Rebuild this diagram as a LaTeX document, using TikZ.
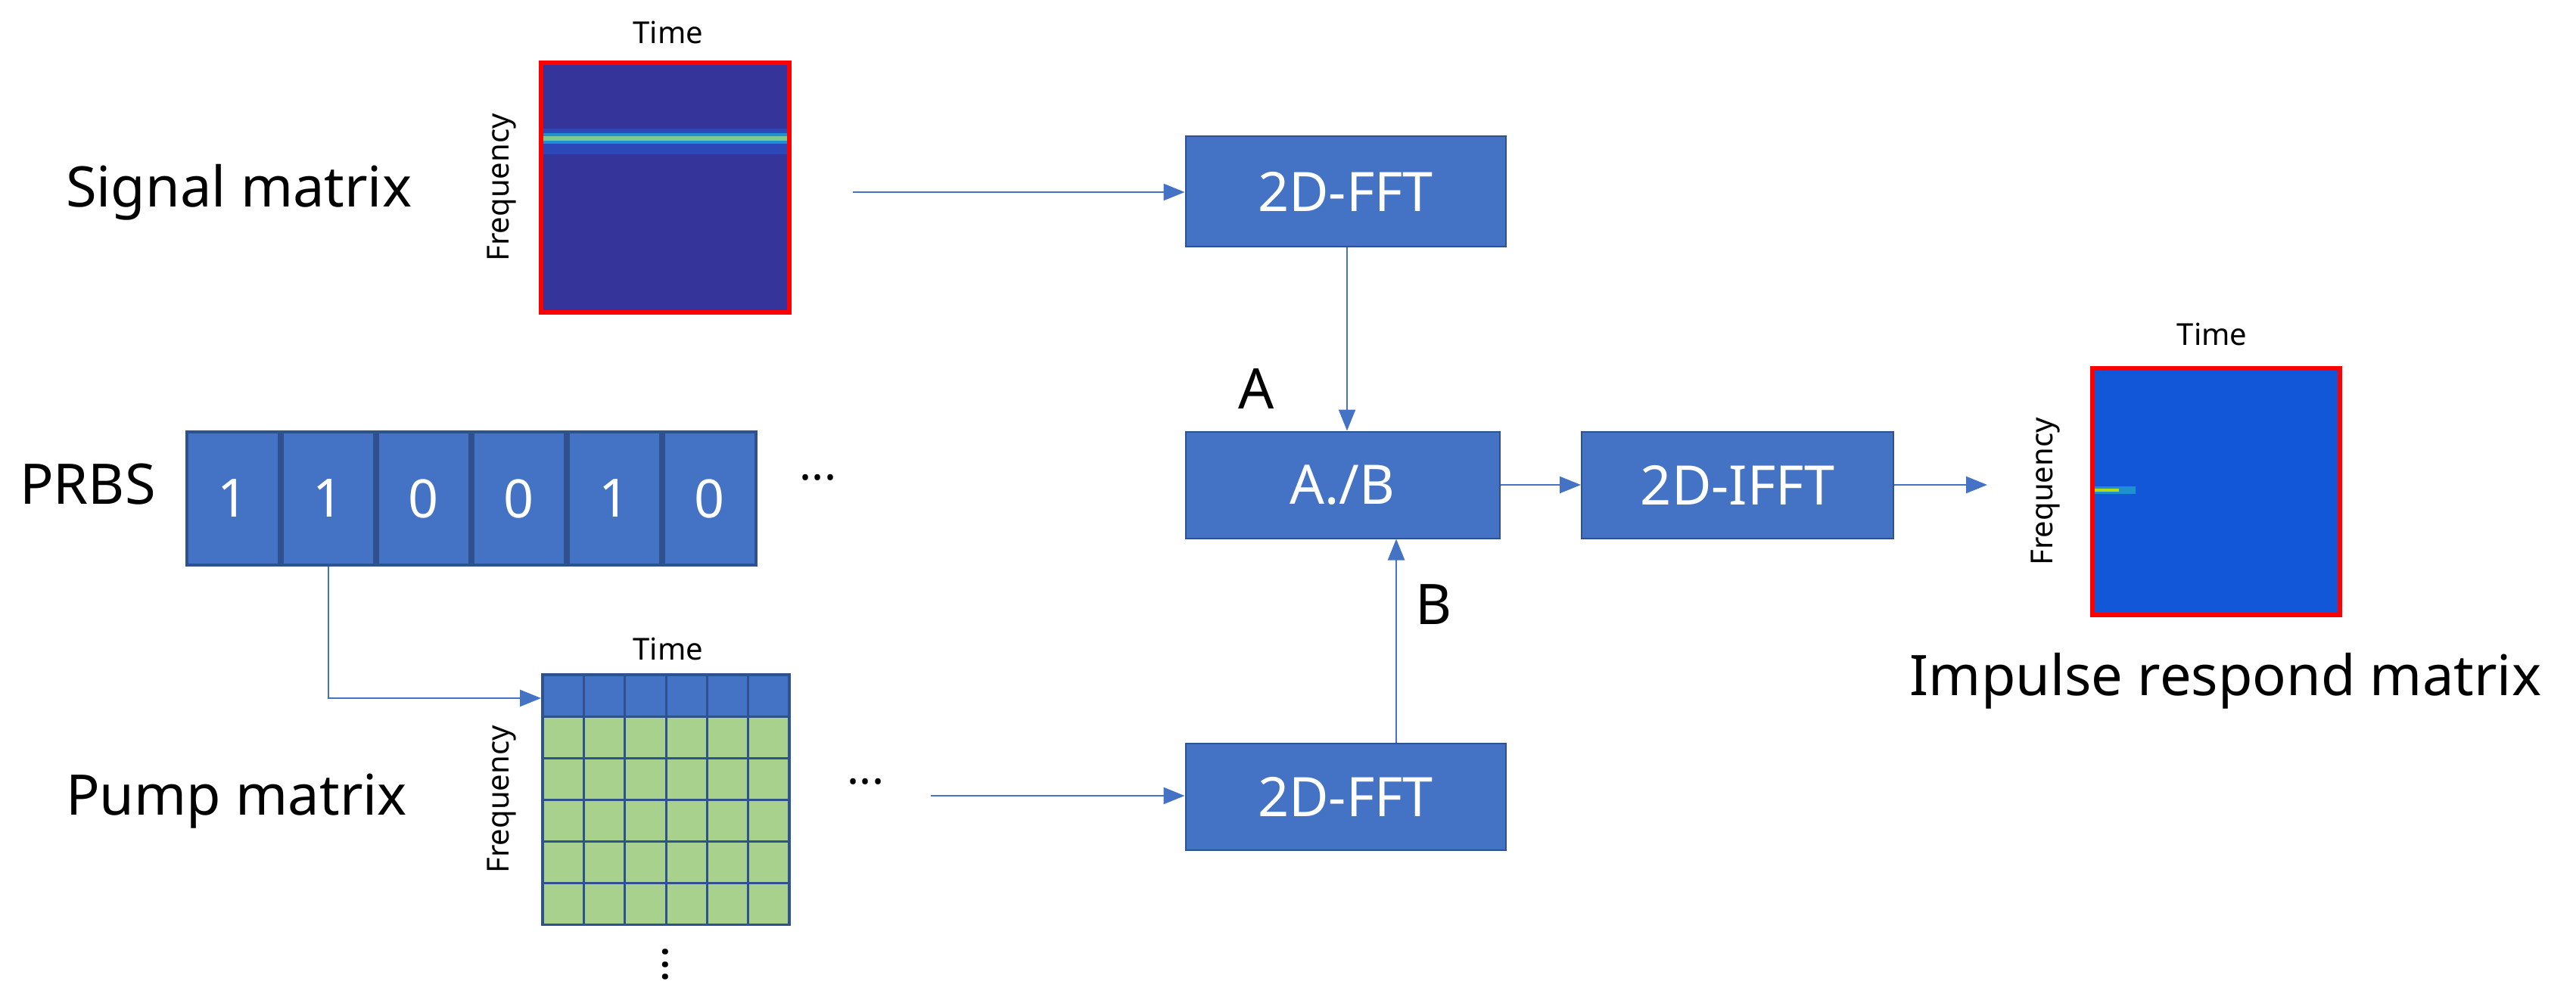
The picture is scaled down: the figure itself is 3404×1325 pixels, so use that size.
\documentclass[tikz,border=0pt]{standalone}
\usepackage{fontspec}
\setmainfont{Noto Sans}
\usetikzlibrary{arrows.meta}
\definecolor{bx}{HTML}{4472C4}
\definecolor{bxd}{HTML}{2F528F}
\definecolor{gr}{HTML}{A9D18E}
\definecolor{sbg}{HTML}{35349A}
\definecolor{ibg}{HTML}{1257D8}
\definecolor{bnd1}{HTML}{2C48B8}
\definecolor{bnd2}{HTML}{1E90D0}
\definecolor{bnd3}{HTML}{7CC890}
\begin{document}
\begin{tikzpicture}[x=1pt,y=-1pt,
  blk/.style={draw=bxd,line width=2pt,fill=bx,text=white,font=\fontsize{72}{80}\selectfont,inner sep=0pt},
  arr/.style={draw=bx,line width=2.5pt,-{Triangle[length=28pt,width=22pt]}},
  lbl/.style={font=\fontsize{74}{86}\selectfont,inner sep=0pt},
  dts/.style={font=\fontsize{60}{70}\selectfont,inner sep=0pt},
  axl/.style={font=\fontsize{40}{48}\selectfont,inner sep=0pt},
  cell/.style={draw=bxd,line width=4pt,fill=bx,text=white,minimum width=122pt,minimum height=176pt,inner sep=0pt,font=\fontsize{70}{80}\selectfont}]
\useasboundingbox (0,0) rectangle (3404,1325);
% signal matrix image
\node[draw=red,line width=6pt,fill=sbg,minimum width=328pt,minimum height=330pt,inner sep=0pt] (sig) at (879,248) {};
\fill[bnd1] (718,170) rectangle (1040,204);
\fill[bnd2] (718,176) rectangle (1040,190);
\fill[bnd3] (718,180) rectangle (1040,186);
\node[axl] (sigt) at (883,43) {Time};
\node[axl,rotate=90] (sigf) at (663,248) {Frequency};
\node[lbl,anchor=west] (sigl) at (87,254) {Signal matrix};
% blocks
\node[blk,minimum width=423pt,minimum height=146pt] (fft1) at (1778,253) {2D-FFT};
\node[blk,minimum width=415pt,minimum height=141pt] (div) at (1774,641) {A./B};
\node[blk,minimum width=412pt,minimum height=141pt] (ifft) at (2296,641) {2D-IFFT};
\node[blk,minimum width=423pt,minimum height=141pt] (fft2) at (1778,1053) {2D-FFT};
\coordinate (s1) at (1127,254);
\draw[arr] (s1) -- (fft1.west|-s1);
\draw[arr] (fft1.south-|1780,0) -- (div.north-|1780,0);
\node[lbl] (A) at (1660,514) {A};
\draw[arr] (fft2.north-|1845,0) -- (div.south-|1845,0);
\node[lbl] (B) at (1895,799) {B};
\draw[arr] (div.east) -- (ifft.west);
\coordinate (o1) at (2626,641);
\draw[arr] (ifft.east) -- (o1);
% impulse image
\node[draw=red,line width=6pt,fill=ibg,minimum width=327pt,minimum height=326pt,inner sep=0pt] (imp) at (2928,650) {};
\fill[cyan!60!ibg] (2768,643) rectangle (2822,653);
\fill[yellow!70!green] (2768,646) rectangle (2800,650);
\node[axl] (impt) at (2923,442) {Time};
\node[axl,rotate=90] (impf) at (2703,650) {Frequency};
\node[lbl] (impl) at (2941,900) {Impulse respond matrix};
% PRBS
\node[lbl,anchor=west] (prbs) at (26,640) {PRBS};
\node[cell] (c1) at (308,659) {1};
\node[cell,anchor=west] (c2) at (c1.east) {1};
\node[cell,anchor=west] (c3) at (c2.east) {0};
\node[cell,anchor=west] (c4) at (c3.east) {0};
\node[cell,anchor=west] (c5) at (c4.east) {1};
\node[cell,anchor=west] (c6) at (c5.east) {0};
\node[dts] (pd) at (1081,640) {···};
% pump grid
\node[draw=bxd,line width=4pt,minimum width=326pt,minimum height=330pt,inner sep=0pt] (pump) at (880,1057) {};
\foreach \r in {0,...,5}{\foreach \c in {0,...,5}{
  \ifnum\r=0 \def\fc{bx}\else\def\fc{gr}\fi
  \filldraw[fill=\fc,draw=bxd,line width=3pt] (717+\c*54.33,892+\r*55) rectangle ++(54.33,55);}}
\node[axl] (pumpt) at (883,858) {Time};
\node[axl,rotate=90] (pumpf) at (663,1057) {Frequency};
\node[dts,rotate=90] (vd) at (888,1275) {···};
\node[lbl,anchor=west] (pumpl) at (87,1059) {Pump matrix};
\node[dts] (pd2) at (1144,1042) {···};
\coordinate (k1) at (434,923);
\draw[arr] (c2.south) -- (k1) -- (pump.west|-k1);
\coordinate (p1) at (1230,1052);
\draw[arr] (p1) -- (fft2.west|-p1);
\end{tikzpicture}
\end{document}
